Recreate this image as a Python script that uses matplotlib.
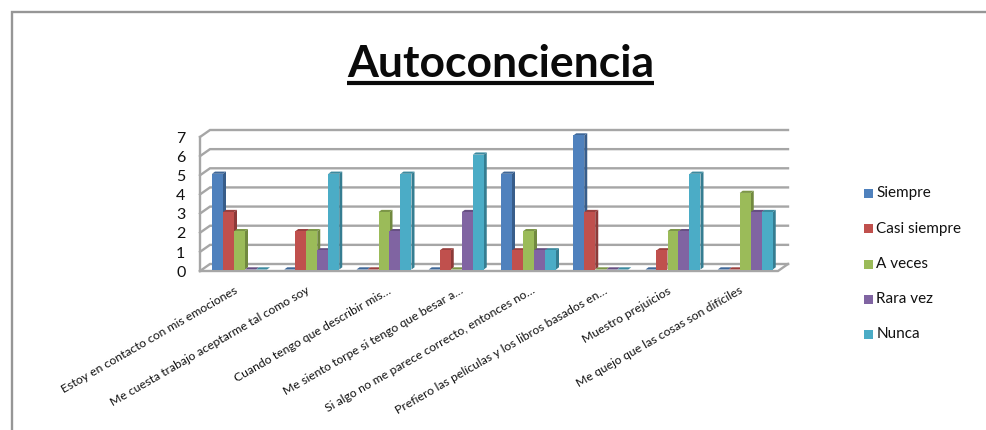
import matplotlib
matplotlib.use("Agg")
import matplotlib.pyplot as plt
from matplotlib.patches import Rectangle

plt.rcParams['font.family'] = ['Lato', 'DejaVu Sans']

W, H = 986, 430

categories = [
    "Estoy en contacto con mis emociones",
    "Me cuesta trabajo aceptarme tal como soy",
    "Cuando tengo que describir mis…",
    "Me siento torpe si tengo que besar a…",
    "Si algo no me parece correcto, entonces no…",
    "Prefiero las películas y los libros basados en…",
    "Muestro prejuicios",
    "Me quejo que las cosas son difíciles",
]
series_names = ["Siempre", "Casi siempre", "A veces", "Rara vez", "Nunca"]
siempre = [5, 0, 0, 0, 5, 7, 0, 0]
casi_siempre = [3, 2, 0, 1, 1, 3, 1, 0]
a_veces = [2, 2, 3, 0, 2, 0, 2, 4]
rara_vez = [0, 1, 2, 3, 1, 0, 2, 3]
nunca = [0, 5, 5, 6, 1, 0, 5, 3]
yticks = [0, 1, 2, 3, 4, 5, 6, 7]

front = ["#4f81bd", "#c0504d", "#9bbb59", "#8064a2", "#4bacc6"]
side = ["#385d8a", "#8c3a38", "#71893f", "#5c4776", "#357d91"]
top = ["#3f6797", "#9a403e", "#7c9647", "#664f82", "#3c8a9f"]

fig = plt.figure(figsize=(W / 100, H / 100), dpi=100, facecolor="white")

# frame of the chart area: only the top and left edges are in view
bg = fig.add_axes([0, 0, 1, 1])
bg.set_xlim(0, W)
bg.set_ylim(H, 0)
bg.axis("off")
bg.plot([11.5, 11.5, W], [H, 11.5, 11.5], color="#969696", lw=1.7,
        solid_joinstyle="miter")
bg.text(500.5, 64, "Autoconciencia", ha="center", va="center", fontsize=32,
        fontweight="bold", color="#0a0a0a")
bg.plot([347, 654], [83, 83], color="#0a0a0a", lw=3.0, solid_capstyle="butt")

# plot box: x in category units, y in value units
left, right, bottom, upper = 200, 778, 271, 137
ax = fig.add_axes([left / W, 1 - bottom / H, (right - left) / W, (bottom - upper) / H])
ax.set_xlim(0, 8)
ax.set_ylim(0, 7)
ax.axis("off")

unit_x = 8 / (right - left)
unit_y = 7 / (bottom - upper)
wall_dx, wall_dy = 10 * unit_x, 7 * unit_y
bar_dx, bar_dy = 3 * unit_x, 2.2 * unit_y
gray = "#a6a6a6"

# back wall gridlines, left wall and floor edges
for v in yticks:
    ax.plot([0, wall_dx, 8 + wall_dx], [v, v + wall_dy, v + wall_dy],
            color=gray, lw=1.7, clip_on=False, zorder=1, solid_joinstyle="miter")
ax.plot([0, 0], [0, 7], color=gray, lw=1.7, clip_on=False, zorder=1)
ax.plot([0, 8, 8 + wall_dx], [0, 0, wall_dy], color=gray, lw=1.7,
        clip_on=False, zorder=1, solid_joinstyle="miter")

# bars, left to right so each one overlaps the side of the previous
bar_w = 11 * unit_x
start = 12 * unit_x
values = [siempre, casi_siempre, a_veces, rara_vez, nunca]
base = 1.5 * unit_y
for c in range(len(categories)):
    for s in range(len(series_names)):
        v = values[s][c]
        x0 = c + start + s * bar_w
        x1 = x0 + bar_w
        z = 3 + c * 10 + s
        if v > 0:
            ax.bar(x0, v, width=bar_w, bottom=base, align="edge", color=front[s],
                   zorder=z + 0.2, clip_on=False)
        y1 = v + base if v > 0 else base
        ax.fill([x1, x1 + bar_dx, x1 + bar_dx, x1], [base, base + bar_dy, y1 + bar_dy, y1],
                color=side[s], lw=0, zorder=z + 0.1, clip_on=False)
        ax.fill([x0, x1, x1 + bar_dx, x0 + bar_dx], [y1, y1, y1 + bar_dy, y1 + bar_dy],
                color=top[s], lw=0, zorder=z + 0.1, clip_on=False)

# value axis labels
for v in yticks:
    ax.annotate(str(v), (0, v), xytext=(-10.5, -1.2), textcoords="offset points",
                ha="right", va="center", fontsize=11.5, color="#111111",
                annotation_clip=False)

# slanted category labels, right end under each group; truncated ones sit further right
for c, name in enumerate(categories):
    shift = 3.6 if name.endswith("…") else -2.9
    ax.annotate(name, (c + 0.5, 0), xytext=(1 + shift, -10), textcoords="offset points",
                ha="right", va="top", rotation=30, rotation_mode="anchor",
                fontsize=8.85, color="#111111", annotation_clip=False)

# legend
for s, name in enumerate(series_names):
    y = 193.5 + s * 35.25
    bg.add_patch(Rectangle((864, y - 4.5), 9, 9, color=front[s], lw=0))
    bg.text(876.5, y, name, va="center", ha="left", fontsize=11, color="#111111")

fig.savefig("out.png", dpi=100)
